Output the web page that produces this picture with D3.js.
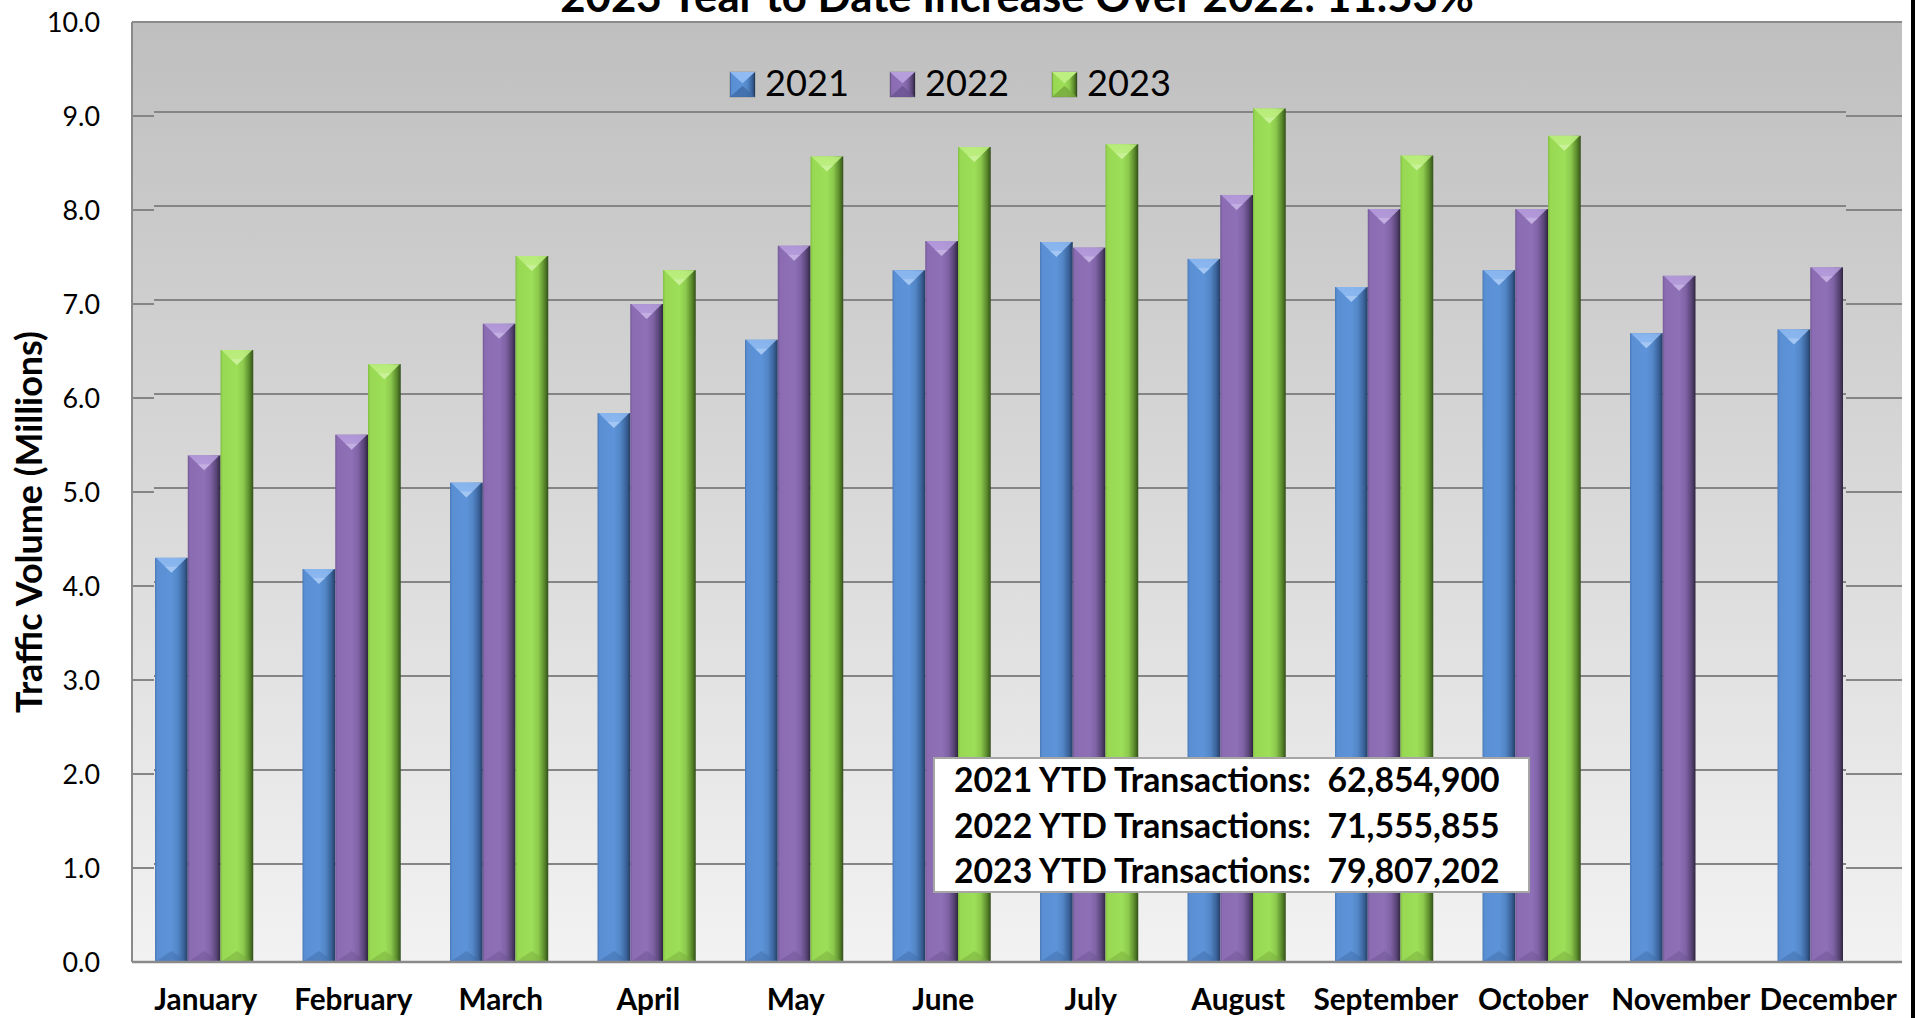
<!DOCTYPE html>
<html><head><meta charset="utf-8">
<script src="https://cdn.jsdelivr.net/npm/d3@7"></script>
<style>
body{margin:0;background:#fff}
svg{display:block}
text{font-family:Lato,"Open Sans","Noto Sans",sans-serif;fill:#000}
</style>
</head><body>
<svg id="chart" width="1915" height="1018"></svg>
<script>
// ---------- data ----------
const months = ["January","February","March","April","May","June","July","August","September","October","November","December"];
const seriesNames = ["2021","2022","2023"];
const values2021 = [4.30,4.18,5.10,5.84,6.62,7.36,7.66,7.48,7.18,7.36,6.69,6.73];
const values2022 = [5.39,5.61,6.79,7.00,7.62,7.67,7.60,8.16,8.01,8.01,7.30,7.39];
const values2023 = [6.51,6.36,7.51,7.36,8.57,8.67,8.70,9.08,8.58,8.79,null,null];
const yTickValues = [0,1,2,3,4,5,6,7,8,9,10];
const chartTitle = "2023 Year to Date Increase Over 2022: 11.53%";
const yAxisTitle = "Traffic Volume (Millions)";
const ytdLines = ["2021 YTD Transactions:  62,854,900","2022 YTD Transactions:  71,555,855","2023 YTD Transactions:  79,807,202"];

const seriesValues = [values2021, values2022, values2023];

// ---------- styling ----------
const gradOffsets = ["0%","7%","50%","70%","88%","100%"];
const palette = {
  "2021": {stops:["#4a78b6","#5a8fd4","#5d93d8","#5286c6","#3a6299","#243e63"], top:"#8fbaf2", bot:"#3f6aa6"},
  "2022": {stops:["#735996","#8b6cb3","#8e70b7","#7f63a5","#574475","#30263f"], top:"#b69ddc", bot:"#6a5290"},
  "2023": {stops:["#80bf42","#98d853","#9ddf58","#8cc94d","#5a8a2c","#33501a"], top:"#bdef80", bot:"#75a83c"}
};

const W = 1915, H = 1018;
const plot = {left:132, right:1902, top:22, bottom:962};

const svg = d3.select("#chart");
const defs = svg.append("defs");

// background gradient
const bg = defs.append("linearGradient").attr("id","bg").attr("x1",0).attr("y1",0).attr("x2",0).attr("y2",1);
bg.append("stop").attr("offset","0%").attr("stop-color","#bfbfbf");
bg.append("stop").attr("offset","100%").attr("stop-color","#f2f2f2");

seriesNames.forEach(s=>{
  const g = defs.append("linearGradient").attr("id","g"+s).attr("x1",0).attr("y1",0).attr("x2",1).attr("y2",0);
  palette[s].stops.forEach((c,i)=>g.append("stop").attr("offset",gradOffsets[i]).attr("stop-color",c));
  const tg = defs.append("linearGradient").attr("id","t"+s).attr("x1",0).attr("y1",0).attr("x2",0).attr("y2",1);
  tg.append("stop").attr("offset","0%").attr("stop-color",palette[s].top).attr("stop-opacity",0.85);
  tg.append("stop").attr("offset","100%").attr("stop-color",palette[s].top).attr("stop-opacity",1);
});

// scales
const x0 = d3.scaleBand().domain(months).range([plot.left, plot.right]).paddingInner(0).paddingOuter(0);
const bw = x0.bandwidth();
const x1 = d3.scaleBand().domain(seriesNames).range([bw*0.156, bw*0.822]).padding(0);
const y = d3.scaleLinear().domain([0,10]).range([plot.bottom, plot.top]);

// plot background
svg.append("rect").attr("x",plot.left).attr("y",plot.top)
  .attr("width",plot.right-plot.left).attr("height",plot.bottom-plot.top)
  .attr("fill","url(#bg)");

// gridlines (3D back wall style)
const grid = svg.append("g");
const backOff = 4, frontL = 22, frontR = 56;
yTickValues.filter(v=>v>0 && v<10).forEach(v=>{
  const yy = y(v);
  grid.append("line").attr("x1",plot.left).attr("x2",plot.left+frontL).attr("y1",yy).attr("y2",yy)
    .attr("stroke","#858585").attr("stroke-width",2);
  grid.append("line").attr("x1",plot.left+frontL).attr("x2",plot.right-frontR).attr("y1",yy-backOff).attr("y2",yy-backOff)
    .attr("stroke","#858585").attr("stroke-width",2);
  grid.append("line").attr("x1",plot.right-frontR).attr("x2",plot.right).attr("y1",yy).attr("y2",yy)
    .attr("stroke","#858585").attr("stroke-width",2);
});
// top border
svg.append("line").attr("x1",plot.left).attr("x2",plot.right).attr("y1",y(10)).attr("y2",y(10))
  .attr("stroke","#8a8a8a").attr("stroke-width",2);

// bars
const barsG = svg.append("g");
months.forEach((m,mi)=>{
  seriesNames.forEach((s,si)=>{
    const v = seriesValues[si][mi];
    if(v==null) return;
    const bx = x0(m)+x1(s), w = x1.bandwidth();
    const by = y(v), h = y(0)-y(v);
    const g = barsG.append("g");
    g.append("rect").attr("x",bx).attr("y",by).attr("width",w).attr("height",h).attr("fill","url(#g"+s+")");
    const t = Math.min(15,h/2);
    g.append("path").attr("d",`M${bx+1},${by}L${bx+w-1},${by}L${bx+w/2},${by+t}Z`).attr("fill","url(#t"+s+")");
    g.append("path").attr("d",`M${bx+w*0.3},${by+t*0.6}L${bx+w*0.7},${by+t*0.6}L${bx+w/2},${by+t}Z`).attr("fill","#fff").attr("opacity",0.2);
    g.append("path").attr("d",`M${bx},${by+h}L${bx+w},${by+h}L${bx+w/2},${by+h-11}Z`).attr("fill",palette[s].bot).attr("opacity",0.45);
  });
});

// left axis line and bottom axis line
svg.append("line").attr("x1",plot.left).attr("x2",plot.left).attr("y1",plot.top).attr("y2",plot.bottom)
  .attr("stroke","#8a8a8a").attr("stroke-width",2);
svg.append("line").attr("x1",plot.left).attr("x2",plot.right).attr("y1",plot.bottom).attr("y2",plot.bottom)
  .attr("stroke","#8a8a8a").attr("stroke-width",2.5);

// helper to fit text width
function fit(sel, targetW){
  const n = sel.node();
  const fs = parseFloat(sel.attr("font-size"));
  const wNow = n.getComputedTextLength();
  if(wNow>0) sel.attr("font-size", fs*targetW/wNow);
  return parseFloat(sel.attr("font-size"));
}

// y axis
const yAxis = svg.append("g").attr("transform",`translate(${plot.left},0)`)
  .call(d3.axisLeft(y).tickValues(yTickValues).tickFormat(d3.format(".1f")).tickSize(0).tickPadding(32));
yAxis.select(".domain").remove();
yAxis.selectAll("text").attr("font-size",30).attr("font-family","Lato, sans-serif").attr("fill","#000").attr("dy","0.35em");
{
  const t10 = yAxis.selectAll("text").filter(d=>d===10);
  const fs = fit(t10, 53);
  yAxis.selectAll("text").attr("font-size",fs);
}

// x axis
const xAxis = svg.append("g").attr("transform",`translate(0,${plot.bottom})`)
  .call(d3.axisBottom(x0).tickSize(0));
xAxis.select(".domain").remove();
xAxis.selectAll("text").attr("font-size",28).attr("font-weight","bold").attr("font-family","Lato, sans-serif")
  .attr("fill","#000").attr("y",48).attr("dy",0);
{
  const tj = xAxis.selectAll("text").filter(d=>d==="January");
  const fs = fit(tj, 103);
  xAxis.selectAll("text").attr("font-size",fs);
}

// y axis title
const yt = svg.append("text").attr("transform","translate(42,522) rotate(-90)")
  .attr("text-anchor","middle").attr("font-size",34).attr("font-weight","bold").text(yAxisTitle);
fit(yt, 382);

// title
const tt = svg.append("text").attr("x",(plot.left+plot.right)/2).attr("y",12)
  .attr("text-anchor","middle").attr("font-size",40).attr("font-weight","bold").text(chartTitle);
fit(tt, 914);

// legend
const legendX = [730, 890, 1052];
const legend = svg.append("g");
let legFs = 40;
seriesNames.forEach((s,i)=>{
  const lx = legendX[i], ly = 72, sz = 25;
  legend.append("rect").attr("x",lx).attr("y",ly).attr("width",sz).attr("height",sz).attr("fill","url(#g"+s+")")
    .attr("stroke","#00000033").attr("stroke-width",1);
  legend.append("path").attr("d",`M${lx},${ly}L${lx+sz},${ly}L${lx+sz/2},${ly+sz*0.45}Z`).attr("fill",palette[s].top);
  legend.append("path").attr("d",`M${lx},${ly+sz}L${lx+sz},${ly+sz}L${lx+sz/2},${ly+sz*0.55}Z`).attr("fill",palette[s].bot).attr("opacity",0.8);
  const lt = legend.append("text").attr("x",lx+35).attr("y",ly+sz-1).attr("font-size",legFs).text(s);
  if(i===0) legFs = fit(lt, 84); else lt.attr("font-size",legFs);
});

// YTD text box
const box = svg.append("g");
box.append("rect").attr("x",934).attr("y",758).attr("width",595).attr("height",134)
  .attr("fill","#fff").attr("stroke","#a6a6a6").attr("stroke-width",2);
let boxFs = 32;
ytdLines.forEach((line,i)=>{
  const t = box.append("text").attr("x",954).attr("y",792+i*45.5).attr("font-size",boxFs)
    .attr("font-weight","bold").style("white-space","pre").text(line);
  if(i===0) boxFs = fit(t, 546); else t.attr("font-size",boxFs);
});

// right frame edge
svg.append("rect").attr("x",1911).attr("y",0).attr("width",4).attr("height",H).attr("fill","#000");
</script>
</body></html>
